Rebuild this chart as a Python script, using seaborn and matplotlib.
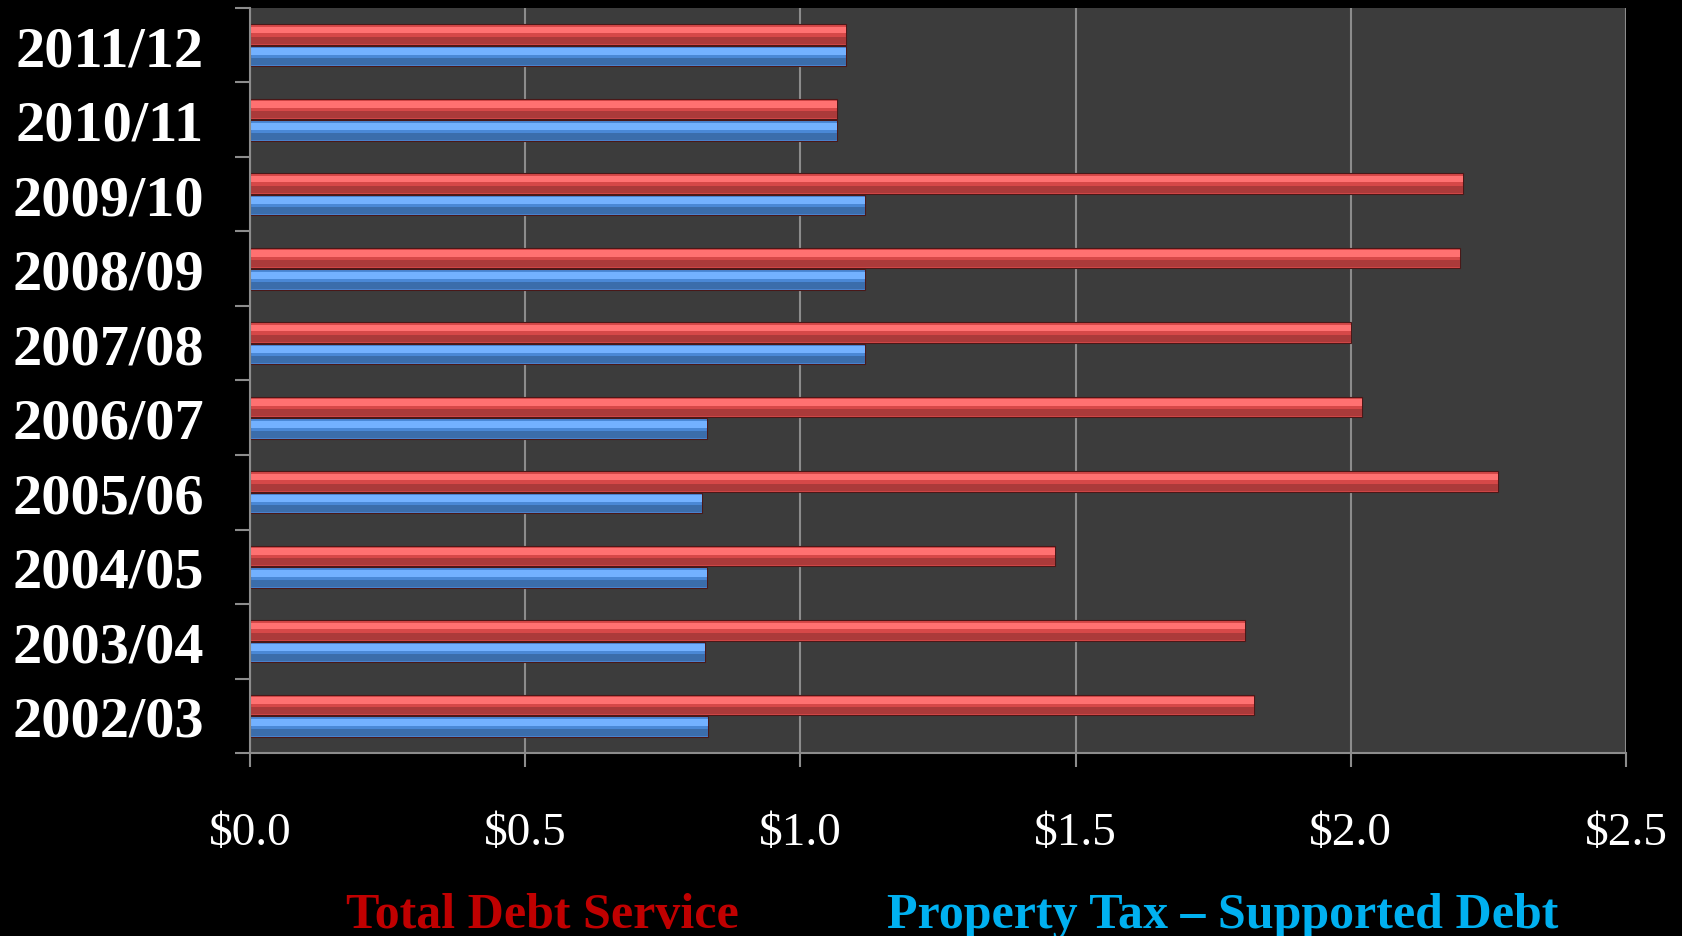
import numpy as np
import pandas as pd
from matplotlib import pyplot as plt
from matplotlib.ticker import FuncFormatter, MultipleLocator, FixedLocator
import seaborn as sns

# fiscal years, top to bottom as shown
years = ["2011/12", "2010/11", "2009/10", "2008/09", "2007/08",
         "2006/07", "2005/06", "2004/05", "2003/04", "2002/03"]
total_debt = [1.083, 1.066, 2.204, 2.198, 2.001, 2.021, 2.268, 1.463, 1.808, 1.824]
prop_tax_debt = [1.083, 1.066, 1.118, 1.117, 1.118, 0.830, 0.822, 0.830, 0.826, 0.832]
series = ["Total Debt Service", "Property Tax \u2013 Supported Debt"]

df = pd.DataFrame({
    "year": years * 2,
    "value": total_debt + prop_tax_debt,
    "series": [series[0]] * len(years) + [series[1]] * len(years),
})

sns.set_style("dark")
fig = plt.figure(figsize=(16.82, 9.37), dpi=100, facecolor="black")
ax = fig.add_axes([0.1486, 0.1953, 0.8181, 0.7951])
ax.set_facecolor("#3c3c3c")

bar_colors = {series[0]: "#d64848", series[1]: "#4a88d6"}
sns.barplot(data=df, x="value", y="year", hue="series", order=years,
            hue_order=series, palette=bar_colors, orient="h", width=0.58,
            gap=0.06, edgecolor="#4a1818", linewidth=0.8, legend=False,
            saturation=1, ax=ax)

# shading on each bar for the glossy look: light upper band, darker lower band
for p in list(ax.patches):
    x0, y0 = p.get_x(), p.get_y()
    w, h = p.get_width(), p.get_height()
    fc = p.get_facecolor()
    light = tuple(min(1, c + 0.16) for c in fc[:3])
    ax.add_patch(plt.Rectangle((x0, y0 + h * 0.12), w, h * 0.33,
                               facecolor=light, edgecolor="none", zorder=p.get_zorder() + 0.1))
    dark = tuple(c * 0.8 for c in fc[:3])
    ax.add_patch(plt.Rectangle((x0, y0 + h * 0.62), w, h * 0.34,
                               facecolor=dark, edgecolor="none", zorder=p.get_zorder() + 0.1))

ax.set_xlim(0, 2.5)
ax.set_ylim(len(years) - 0.5, -0.5)
ax.xaxis.set_major_locator(MultipleLocator(0.5))
ax.xaxis.set_major_formatter(FuncFormatter(lambda v, _: f"${v:.1f}"))
ax.grid(axis="x", color="#8c8c8c", linewidth=1.5)
ax.grid(axis="y", visible=False)
ax.set_axisbelow(True)
ax.set_xlabel("")
ax.set_ylabel("")

for side in ["top", "right"]:
    ax.spines[side].set_visible(False)
for side in ["left", "bottom"]:
    ax.spines[side].set_color("#8c8c8c")
    ax.spines[side].set_linewidth(1.5)

ax.yaxis.set_minor_locator(FixedLocator(np.arange(len(years) + 1) - 0.5))
ax.tick_params(axis="y", which="major", length=0, pad=33)
ax.tick_params(axis="y", which="minor", length=11, width=1.5, color="#8c8c8c", left=True)
ax.tick_params(axis="x", which="major", length=10, width=1.5, color="#8c8c8c", pad=32, bottom=True)

for lbl in ax.get_yticklabels():
    lbl.set_fontfamily("Liberation Serif")
    lbl.set_fontweight("bold")
    lbl.set_fontsize(42)
    lbl.set_color("white")
for lbl in ax.get_xticklabels():
    lbl.set_fontfamily("Liberation Serif")
    lbl.set_fontsize(34)
    lbl.set_color("white")

fig.text(542 / 1682, 1 - 916 / 937, series[0], color="#c00000", fontsize=36,
         fontweight="bold", family="Liberation Serif", ha="center", va="center")
fig.text(1223 / 1682, 1 - 916 / 937, series[1], color="#00b0f0", fontsize=36,
         fontweight="bold", family="Liberation Serif", ha="center", va="center")

fig.savefig("out.png", dpi=100, facecolor="black")
